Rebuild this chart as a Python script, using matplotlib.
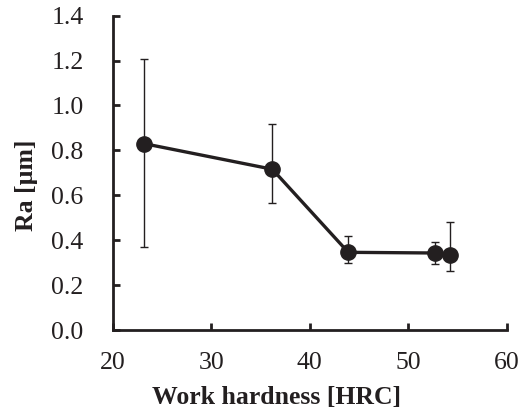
import matplotlib
matplotlib.use("Agg")
import matplotlib.pyplot as plt

# data
hardness = [23.2, 36.2, 43.9, 52.7, 54.2]
ra = [0.83, 0.716, 0.346, 0.343, 0.333]
ra_upper = [1.206, 0.918, 0.419, 0.392, 0.480]
ra_lower = [0.368, 0.567, 0.297, 0.294, 0.264]

x_ticks = [20, 30, 40, 50, 60]
y_ticks = [0.0, 0.2, 0.4, 0.6, 0.8, 1.0, 1.2, 1.4]

plt.rcParams['font.family'] = ['Liberation Serif', 'DejaVu Serif']
ink = '#231f20'

fig = plt.figure(figsize=(5.23, 4.12), dpi=100)
ax = fig.add_axes([0.2153, 0.199, 0.7541, 0.763])

yerr = [[r - lo for r, lo in zip(ra, ra_lower)],
        [hi - r for r, hi in zip(ra, ra_upper)]]
ax.errorbar(hardness, ra, yerr=yerr, fmt='none', ecolor=ink,
            elinewidth=1.0, capsize=2.8, capthick=1.0, zorder=2)
ax.plot(hardness, ra, color=ink, lw=2.4, marker='o', markersize=11,
        zorder=3)

ax.set_xlim(20, 60)
ax.set_ylim(0, 1.4)
ax.set_xticks(x_ticks)
ax.set_yticks(y_ticks)
ax.set_yticklabels([f'{v:.1f}' for v in y_ticks])
ax.spines['top'].set_visible(False)
ax.spines['right'].set_visible(False)
for s in ('left', 'bottom'):
    ax.spines[s].set_linewidth(2.0)
    ax.spines[s].set_color(ink)
ax.tick_params(direction='in', length=4.8, width=2.0, color=ink,
               labelsize=18.5, labelcolor=ink)
ax.tick_params(axis='y', pad=21)
ax.tick_params(axis='x', pad=15.5)

ax.set_xlabel('Work hardness [HRC]', fontsize=18.5, fontweight='bold',
              color=ink)
ax.set_ylabel('Ra [µm]', fontsize=18.5, fontweight='bold', color=ink)
ax.xaxis.set_label_coords(0.4156, -0.178)
ax.yaxis.set_label_coords(-0.19, 0.461)

fig.savefig('out.png', dpi=100)
